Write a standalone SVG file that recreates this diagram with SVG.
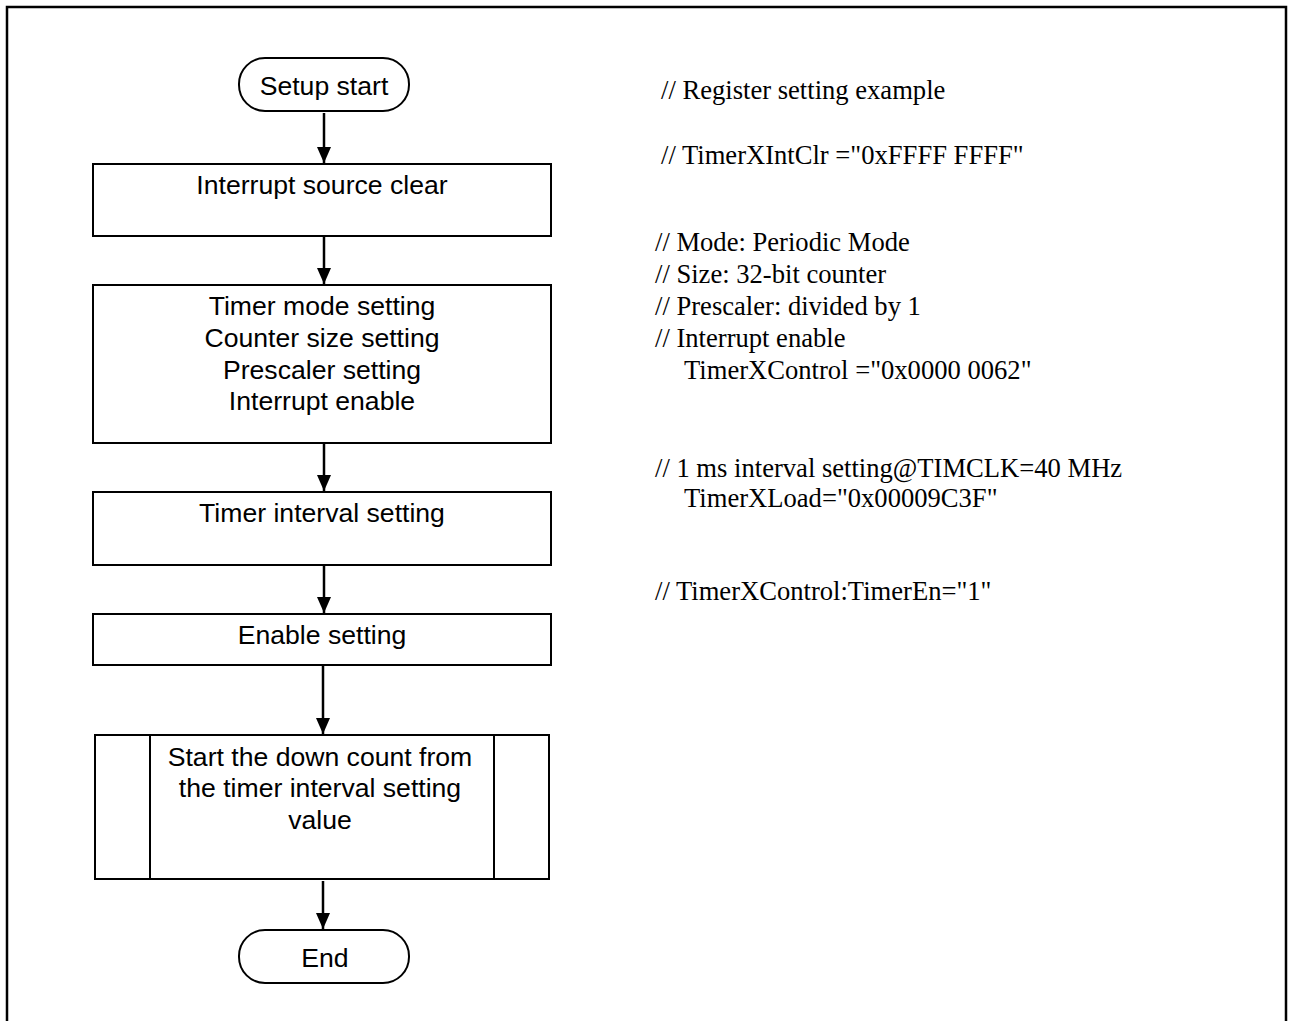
<svg xmlns="http://www.w3.org/2000/svg" width="1291" height="1021" viewBox="0 0 1291 1021">
  <style>
    .frame { fill: none; stroke: #000; stroke-width: 2.5; }
    .box { fill: #fff; stroke: #000; stroke-width: 2; }
    .term { fill: #fff; stroke: #000; stroke-width: 2; }
    .flow { stroke: #000; stroke-width: 2.5; fill: none; }
    .lbl { font-family: "Liberation Sans", Arial, sans-serif; font-size: 26.6px; fill: #000; text-anchor: middle; }
    .note { font-family: "Liberation Serif", "Times New Roman", serif; font-size: 26.6px; fill: #000; }
  </style>
  <defs>
    <marker id="arrow" markerUnits="userSpaceOnUse" markerWidth="16" markerHeight="18" viewBox="0 0 16 18" refX="16" refY="8" orient="auto">
      <path d="M0,1 L16,8 L0,15 Z" fill="#000"/>
    </marker>
  </defs>

  <rect width="1291" height="1021" fill="#fff"/>

  <!-- outer frame (open at the bottom) -->
  <path class="frame" d="M7,1030 L7,7 L1286,7 L1286,1030"/>

  <!-- flowchart nodes -->
  <g id="node-setup-start">
    <rect class="term" x="239" y="58" width="170" height="53" rx="26" ry="26"/>
    <text class="lbl" x="324" y="95">Setup start</text>
  </g>

  <g id="node-int-clear">
    <rect class="box" x="93" y="164" width="458" height="72"/>
    <text class="lbl" x="322" y="194">Interrupt source clear</text>
  </g>

  <g id="node-mode-setting">
    <rect class="box" x="93" y="285" width="458" height="158"/>
    <text class="lbl" x="322" y="315">Timer mode setting</text>
    <text class="lbl" x="322" y="347">Counter size setting</text>
    <text class="lbl" x="322" y="379">Prescaler setting</text>
    <text class="lbl" x="322" y="410">Interrupt enable</text>
  </g>

  <g id="node-interval">
    <rect class="box" x="93" y="492" width="458" height="73"/>
    <text class="lbl" x="322" y="522">Timer interval setting</text>
  </g>

  <g id="node-enable">
    <rect class="box" x="93" y="614" width="458" height="51"/>
    <text class="lbl" x="322" y="644">Enable setting</text>
  </g>

  <g id="node-down-count">
    <rect class="box" x="95" y="735" width="454" height="144"/>
    <line class="box" x1="150" y1="735" x2="150" y2="879"/>
    <line class="box" x1="494" y1="735" x2="494" y2="879"/>
    <text class="lbl" x="320" y="766">Start the down count from</text>
    <text class="lbl" x="320" y="797">the timer interval setting</text>
    <text class="lbl" x="320" y="829">value</text>
  </g>

  <g id="node-end">
    <rect class="term" x="239" y="930" width="170" height="53" rx="26" ry="26"/>
    <text class="lbl" x="325" y="967">End</text>
  </g>

  <!-- connectors -->
  <g id="connectors">
    <line class="flow" x1="324" y1="113" x2="324" y2="163" marker-end="url(#arrow)"/>
    <line class="flow" x1="324" y1="236" x2="324" y2="284" marker-end="url(#arrow)"/>
    <line class="flow" x1="324" y1="443" x2="324" y2="491" marker-end="url(#arrow)"/>
    <line class="flow" x1="324" y1="565" x2="324" y2="613" marker-end="url(#arrow)"/>
    <line class="flow" x1="323" y1="665" x2="323" y2="734" marker-end="url(#arrow)"/>
    <line class="flow" x1="323" y1="881" x2="323" y2="929" marker-end="url(#arrow)"/>
  </g>

  <!-- register setting notes -->
  <g id="notes">
    <text class="note" x="661" y="99">// Register setting example</text>
    <text class="note" x="661" y="164">// TimerXIntClr ="0xFFFF FFFF"</text>
    <text class="note" x="655" y="251">// Mode: Periodic Mode</text>
    <text class="note" x="655" y="283">// Size: 32-bit counter</text>
    <text class="note" x="655" y="315">// Prescaler: divided by 1</text>
    <text class="note" x="655" y="347">// Interrupt enable</text>
    <text class="note" x="684" y="379">TimerXControl ="0x0000 0062"</text>
    <text class="note" x="655" y="477">// 1 ms interval setting@TIMCLK=40 MHz</text>
    <text class="note" x="684" y="507">TimerXLoad="0x00009C3F"</text>
    <text class="note" x="655" y="600">// TimerXControl:TimerEn="1"</text>
  </g>
</svg>
